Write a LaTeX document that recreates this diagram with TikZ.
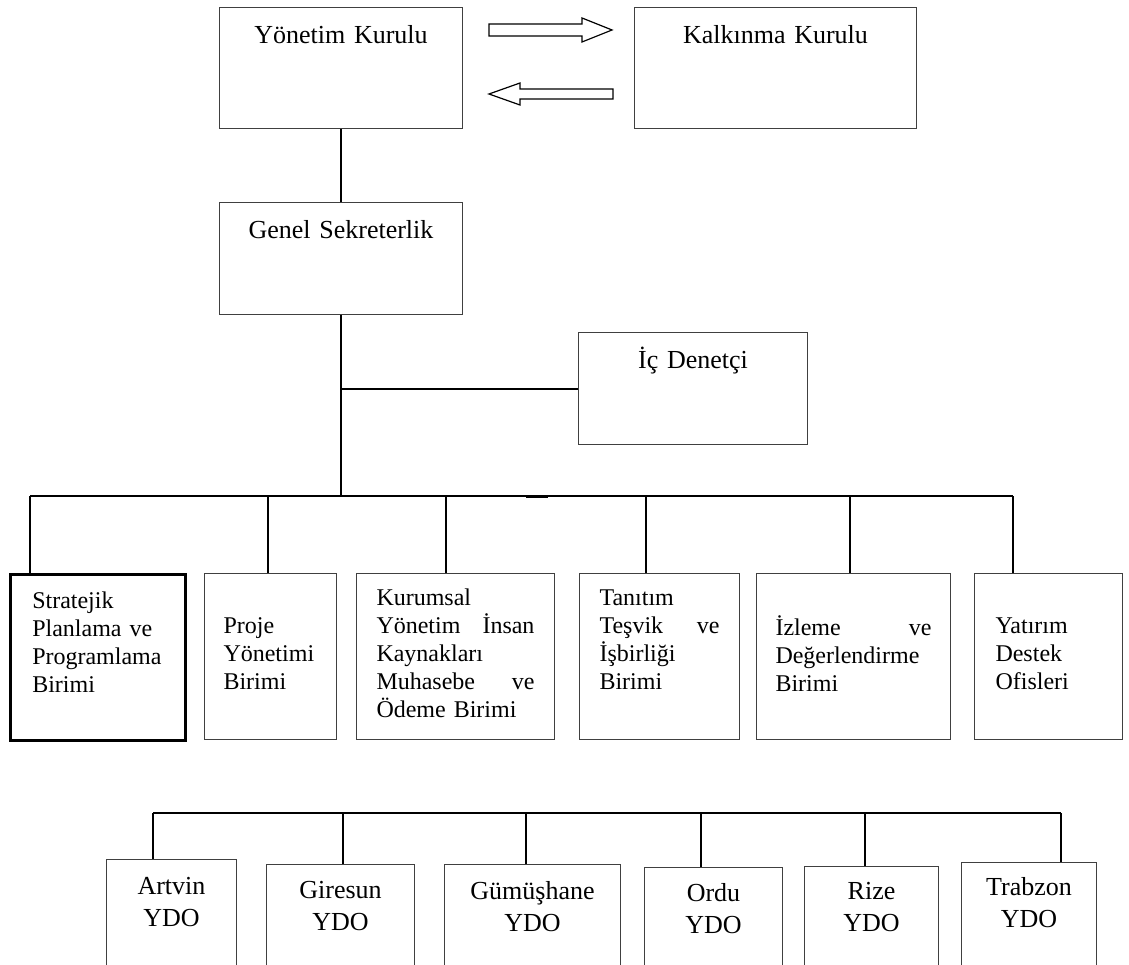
\documentclass[tikz,border=0pt]{standalone}
\usepackage{fontspec}
\setmainfont{Liberation Serif}

\tikzset{
	unit/.style = {draw = black!75, line width = 1pt, inner sep = 0pt, anchor = north west},
	big/.style = {font = \fontsize{26}{32}\selectfont, align = center},
	small/.style = {font = \fontsize{24}{28}\selectfont, align = left},
	link/.style = {line width = 2pt},
	hollow/.style = {draw, line width = 1.2pt, fill = white, line join = miter}
}

\begin{document}
\begin{tikzpicture}[x = 1pt, y = -1pt]

	% Definitions

	\def\BusA{496}		% Bus of the units
	\def\BusB{813}		% Bus of the offices

	\clip (0, 0) rectangle (1129, 965);

	% Boards

	\node [unit, big, text width = 243pt, text height = 36pt, text depth = 85pt] (yk) at (219, 7) {Yönetim Kurulu};
	\node [unit, big, text width = 282pt, text height = 36pt, text depth = 85pt] (kk) at (634, 7) {Kalkınma Kurulu};

	\draw [hollow] (489, 24) -- (582, 24) -- (582, 18) -- (612, 30) -- (582, 42) -- (582, 36) -- (489, 36) -- cycle;
	\draw [hollow] (613, 89) -- (520, 89) -- (520, 83) -- (489, 94) -- (520, 105) -- (520, 99) -- (613, 99) -- cycle;

	% Secretariat and audit

	\node [unit, big, text width = 243pt, text height = 36pt, text depth = 76pt] (gs) at (219, 202) {Genel Sekreterlik};
	\node [unit, big, text width = 229pt, text height = 36pt, text depth = 76pt] (id) at (578, 332) {İç Denetçi};

	\coordinate (hub) at (gs.south |- 0, \BusA);

	\draw [link] (yk) -- (gs);
	\draw [link] (gs) -- (hub);
	\draw [link] (gs.south |- id.west) -- (id.west);

	% Units

	\node [unit, small, draw = black, line width = 2.5pt, inner xsep = 22pt, text width = 131pt, text height = 34pt, text depth = 132pt] (sp) at (9, 573)
		{Stratejik\\ Planlama ve\\ Programlama\\ Birimi};
	\node [unit, small, inner xsep = 19pt, text width = 94pt, text height = 60pt, text depth = 106pt] (py) at (204, 573)
		{Proje\\ Yönetimi\\ Birimi};
	\node [unit, small, inner xsep = 20pt, text width = 158pt, text height = 32pt, text depth = 134pt] (km) at (356, 573)
		{Kurumsal\\ Yönetim\hfill İnsan\\ Kaynakları\\ Muhasebe\hfill ve\\ Ödeme Birimi};
	\node [unit, small, inner xsep = 20pt, text width = 120pt, text height = 32pt, text depth = 134pt] (tt) at (579, 573)
		{Tanıtım\\ Teşvik\hfill ve\\ İşbirliği\\ Birimi};
	\node [unit, small, inner xsep = 19pt, text width = 156pt, text height = 62pt, text depth = 104pt] (iz) at (756, 573)
		{İzleme\hfill ve\\ Değerlendirme\\ Birimi};
	\node [unit, small, inner xsep = 21pt, text width = 106pt, text height = 60pt, text depth = 106pt] (yd) at (974, 573)
		{Yatırım\\ Destek\\ Ofisleri};

	\draw [link] (30, \BusA) -- (1013, \BusA);
	\draw [line width = 3pt] (526, \BusA) -- (548, \BusA);

	\foreach \n/\x in {sp/30, py/268, km/446, tt/646, iz/850, yd/1013}
	{
		\draw [link] (\x, \BusA) -- (\x, 0 |- \n.north);
	}

	% Investment support offices

	\node [unit, big, text width = 130pt, text height = 35pt, text depth = 85pt] (artvin) at (106, 859) {Artvin\\ YDO};
	\node [unit, big, text width = 148pt, text height = 34pt, text depth = 86pt] (giresun) at (266, 864) {Giresun\\ YDO};
	\node [unit, big, text width = 176pt, text height = 35pt, text depth = 85pt] (gumushane) at (444, 864) {Gümüşhane\\ YDO};
	\node [unit, big, text width = 138pt, text height = 34pt, text depth = 86pt] (ordu) at (644, 867) {Ordu\\ YDO};
	\node [unit, big, text width = 134pt, text height = 33pt, text depth = 87pt] (rize) at (804, 866) {Rize\\ YDO};
	\node [unit, big, text width = 135pt, text height = 33pt, text depth = 87pt] (trabzon) at (961, 862) {Trabzon\\ YDO};

	\draw [link] (153, \BusB) -- (1061, \BusB);

	\foreach \n/\x in {artvin/153, giresun/343, gumushane/526, ordu/701, rize/865, trabzon/1061}
	{
		\draw [link] (\x, \BusB) -- (\x, 0 |- \n.north);
	}

\end{tikzpicture}
\end{document}
